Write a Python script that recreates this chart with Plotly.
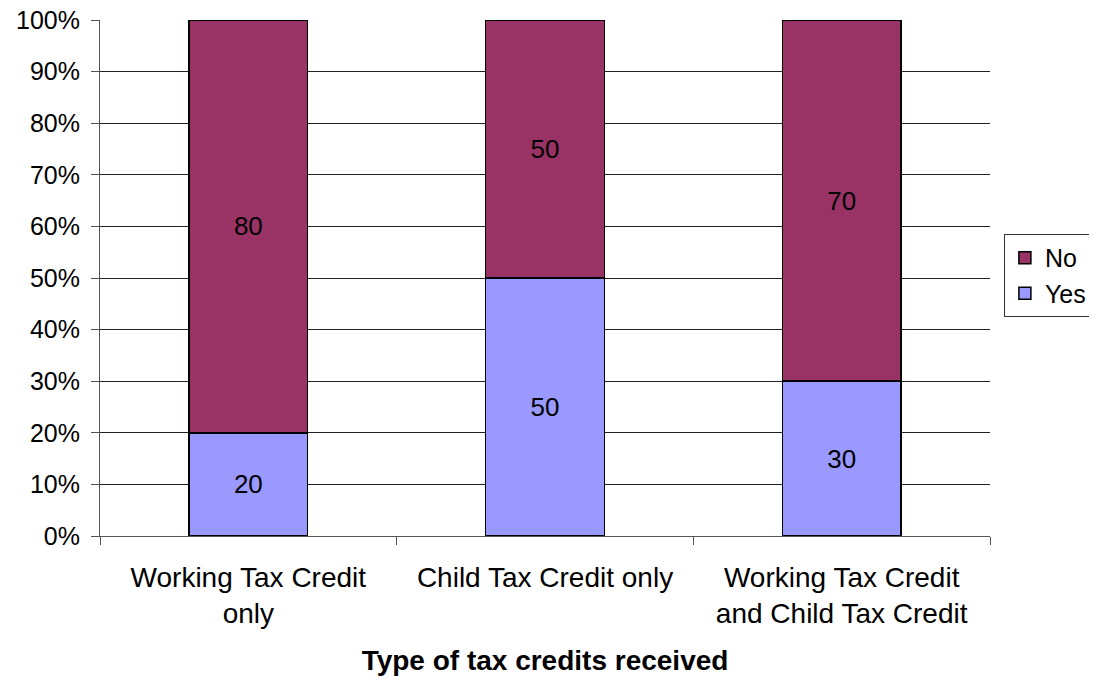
import plotly.graph_objects as go

# Data
categories = ["Working Tax Credit<br>only", "Child Tax Credit only",
              "Working Tax Credit<br>and Child Tax Credit"]
yes_values = [20, 50, 30]
no_values = [80, 50, 70]

font_family = "Arial, Liberation Sans, sans-serif"

fig = go.Figure()

fig.add_trace(go.Bar(
    x=categories, y=yes_values, name="Yes",
    marker=dict(color="#9999FF", line=dict(color="black", width=1.5)),
    text=yes_values, textposition="inside", insidetextanchor="middle",
    textfont=dict(size=26, color="black", family=font_family),
    constraintext="none",
))
fig.add_trace(go.Bar(
    x=categories, y=no_values, name="No",
    marker=dict(color="#993366", line=dict(color="black", width=1.5)),
    text=no_values, textposition="inside", insidetextanchor="middle",
    textfont=dict(size=26, color="black", family=font_family),
    constraintext="none",
))

# page body adds an 8px offset, so the figure is sized/margined to compensate
fig.update_layout(
    width=1089, height=672,
    barmode="stack", bargap=0.6,
    paper_bgcolor="white", plot_bgcolor="white",
    font=dict(family=font_family, size=26, color="black"),
    margin=dict(l=92, r=107, t=12, b=144),
    legend=dict(
        xref="container", yref="container",
        x=0.9145, y=0.602, xanchor="left", yanchor="middle",
        bordercolor="#333333", borderwidth=1,
        font=dict(size=25), traceorder="reversed",
        itemwidth=30, tracegroupgap=0,
    ),
    xaxis=dict(
        type="category", tickson="boundaries", automargin=False,
        ticks="outside", ticklen=8, tickcolor="#555555",
        showline=True, linecolor="#555555", linewidth=1,
        showgrid=False, ticklabelstandoff=16,
        tickfont=dict(size=28),
        title=dict(text="<b>Type of tax credits received</b>",
                   font=dict(size=28), standoff=22),
    ),
    yaxis=dict(
        range=[0, 100], dtick=10, ticksuffix="%", automargin=False,
        ticklabeloverflow="allow", tickfont=dict(size=25),
        ticks="outside", ticklen=8, tickcolor="#555555",
        showline=True, linecolor="#555555", linewidth=1,
        showgrid=True, gridcolor="#222222", gridwidth=1,
        zeroline=False, ticklabelstandoff=6,
    ),
)

fig.write_html("out.html")
